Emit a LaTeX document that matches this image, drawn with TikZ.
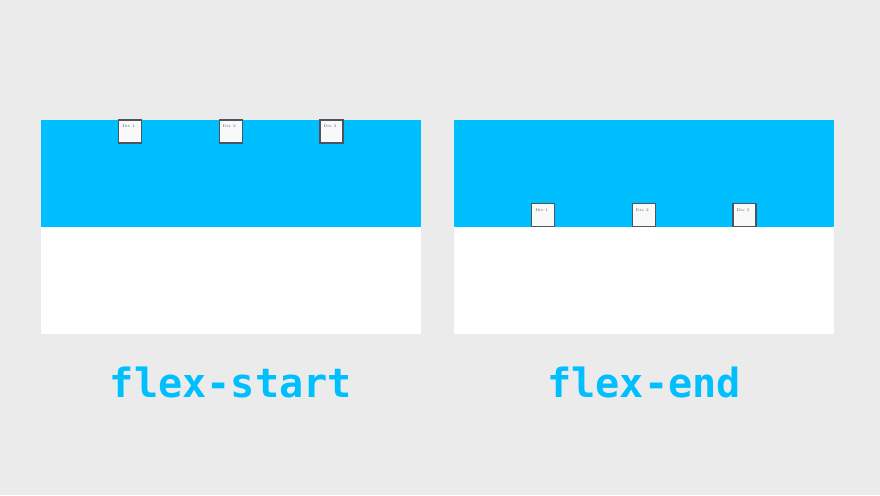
\documentclass[tikz,border=0pt]{standalone}
\usepackage{fontspec}
\newfontfamily\titlefont{DejaVu Sans Mono}
\usetikzlibrary{positioning}
\definecolor{skyblue}{RGB}{0,191,255}
\definecolor{bggray}{RGB}{235,235,235}
\definecolor{boxline}{RGB}{75,85,95}

\begin{document}
\begin{tikzpicture}[x=0.025cm,y=-0.025cm,
  half/.style={rectangle,draw=none,minimum width=9.5cm,minimum height=2.67cm,inner sep=0,outer sep=0},
  divbox/.style={rectangle,draw=boxline,fill=white!95!gray,line width=.8pt,minimum size=.575cm,inner sep=0,outer sep=0},
  divlabel/.style={label={[font=\fontsize{2.8}{3}\selectfont,text=boxline,inner sep=0,anchor=north west,xshift=.08cm,yshift=-.12cm]north west:#1}},
  title/.style={font=\titlefont\bfseries\fontsize{28.6}{30}\selectfont,text=skyblue,anchor=base,inner sep=0}]

% background
\fill[bggray] (0,0) rectangle (880,495);
\useasboundingbox (0,0) rectangle (880,495);

% panels
\node[half,fill=skyblue,anchor=north west] (top1) at (41,120) {};
\node[half,fill=white,below=0pt of top1] (bot1) {};
\node[half,fill=skyblue,anchor=north west] (top2) at (454,120) {};
\node[half,fill=white,below=0pt of top2] (bot2) {};

% flex-start boxes
\node[divbox,divlabel={Div 1},anchor=north west] (s1) at ([xshift=1.944cm]top1.north west) {};
\node[divbox,divlabel={Div 2},right=1.94cm of s1] (s2) {};
\node[divbox,divlabel={Div 3},right=1.94cm of s2] (s3) {};

% flex-end boxes
\node[divbox,divlabel={Div 1},anchor=south west] (e1) at ([xshift=1.944cm]top2.south west) {};
\node[divbox,divlabel={Div 2},right=1.94cm of e1] (e2) {};
\node[divbox,divlabel={Div 3},right=1.94cm of e2] (e3) {};

% titles
\node[title] (t1) at (231,397) {flex-start};
\node[title] (t2) at (644,397) {flex-end};

\end{tikzpicture}
\end{document}
